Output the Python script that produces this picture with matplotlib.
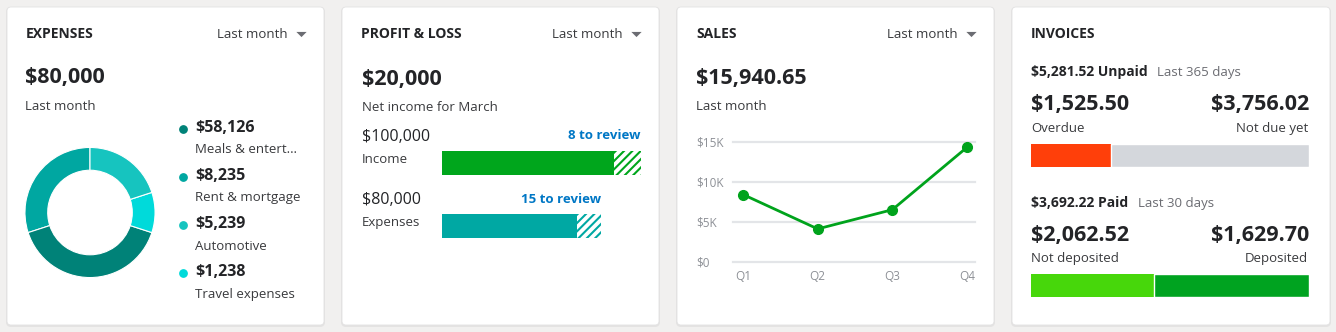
import matplotlib.pyplot as plt
from matplotlib.patches import FancyBboxPatch

plt.rcParams["font.family"] = ["Open Sans", "DejaVu Sans"]
plt.rcParams["hatch.linewidth"] = 1.5

W, H = 1336, 332

# --- data ---
expense_total = "$80,000"
expense_amounts = ["$58,126", "$8,235", "$5,239", "$1,238"]
expense_names = ["Meals & entert…", "Rent & mortgage", "Automotive", "Travel expenses"]
expense_colors = ["#008278", "#00a7a1", "#16c4bf", "#00dada"]
# ring segments, counter-clockwise from 12 o'clock
donut_order = [1, 0, 3, 2]
donut_shares = [30, 40, 10, 20]

pl_net = "$20,000"
pl_labels = ["Income", "Expenses"]
pl_amounts = [100000, 80000]
pl_to_review = [13500, 12000]
pl_review_counts = [8, 15]
pl_colors = ["#00a61c", "#00a8a3"]

sales_total = "$15,940.65"
quarters = ["Q1", "Q2", "Q3", "Q4"]
sales = [8400, 4100, 6500, 14300]
sales_ticks = [0, 5000, 10000, 15000]
sales_tick_labels = ["$0", "$5K", "$10K", "$15K"]

unpaid_total = 5281.52
unpaid_values = [1525.50, 3756.02]
unpaid_labels = ["Overdue", "Not due yet"]
unpaid_colors = ["#ff3f0a", "#d4d7dc"]
paid_total = 3692.22
paid_values = [2062.52, 1629.70]
paid_labels = ["Not deposited", "Deposited"]
paid_bar = [1629.70, 2062.52]
paid_colors = ["#47d70b", "#00a320"]

TEXT = "#393a3d"
STRONG = "#232427"
MUTED = "#6b6c72"
AXIS = "#8d9096"
BLUE = "#0077c5"
GREEN = "#00a31c"
CARET = [(-1, 0.5), (1, 0.5), (0, -0.5), (-1, 0.5)]


def px_axes(fig, x, y, w, h):
    return fig.add_axes([x / W, 1 - (y + h) / H, w / W, h / H])


fig = plt.figure(figsize=(W / 100, H / 100), dpi=100)
fig.patch.set_facecolor("#f1f0ef")
bg = fig.add_axes([0, 0, 1, 1])
bg.set_xlim(0, W)
bg.set_ylim(H, 0)
bg.axis("off")


def txt(x, y, s, size, weight="normal", color=TEXT, ha="left"):
    bg.text(x, y, s, fontsize=size, fontweight=weight, color=color, ha=ha, va="baseline")


def header(x0, x1, title, dropdown=True):
    txt(x0 + 19, 38, title, 10, "bold", color=STRONG)
    if dropdown:
        txt(x1 - 36, 38, "Last month", 9.5, color=TEXT, ha="right")
        bg.scatter([x1 - 23], [33.5], marker=CARET, s=55, color=MUTED, lw=0)


cards = [(7, 324), (342, 659), (677, 994), (1012, 1330)]
for x0, x1 in cards:
    bg.add_patch(FancyBboxPatch((x0 - 1, 7), x1 - x0 + 2, 320, boxstyle="round,pad=0,rounding_size=5",
                                fc="#000000", ec="none", alpha=0.05))
    bg.add_patch(FancyBboxPatch((x0, 7), x1 - x0, 318, boxstyle="round,pad=0,rounding_size=4",
                                fc="white", ec="#e2e2e2", lw=0.6))

# --- expenses ---
header(7, 324, "EXPENSES")
txt(25, 83.5, expense_total, 15.5, "bold", color=STRONG)
txt(25, 110, "Last month", 9.5)
for i, (amount, name, color) in enumerate(zip(expense_amounts, expense_names, expense_colors)):
    y = 131.5 + i * 48.3
    bg.scatter([183], [y - 3], s=28, color=color, zorder=3)
    txt(195, y, amount, 11.5, "bold", color=STRONG)
    txt(195, y + 21.5, name, 9.5)

ax = px_axes(fig, 23, 145.5, 134, 134)
ax.pie(donut_shares, colors=[expense_colors[i] for i in donut_order], startangle=90, counterclock=True,
       radius=1, wedgeprops=dict(width=0.35, edgecolor="white", linewidth=0.8))
ax.set_xlim(-1.03, 1.03)
ax.set_ylim(-1.03, 1.03)

# --- profit & loss ---
header(342, 659, "PROFIT & LOSS")
txt(362, 85, pl_net, 15.5, "bold", color=STRONG)
txt(362, 110.7, "Net income for March", 9.5)
bar_rows = [(140.7, 151), (204.3, 214)]
for (base, bar_top), label, amount, review, count, color in zip(
        bar_rows, pl_labels, pl_amounts, pl_to_review, pl_review_counts, pl_colors):
    txt(362, base, f"${amount:,.0f}", 11.5, color=STRONG)
    txt(362, base + 22, label, 9.5)
    right = 442 + 199 * amount / pl_amounts[0]
    txt(right, base - 1.5, f"{count} to review", 9.5, "bold", color=BLUE, ha="right")
    bax = px_axes(fig, 442, bar_top, 199, 23.5)
    bax.barh(0, amount - review, height=1, color=color, lw=0)
    bax.barh(0, review, left=amount - review, height=1, facecolor="white", edgecolor=color,
             hatch="////", lw=0)
    bax.set_xlim(0, pl_amounts[0])
    bax.set_ylim(-0.5, 0.5)
    bax.axis("off")

# --- sales ---
header(677, 994, "SALES")
txt(696, 84, sales_total, 15.5, "bold", color=STRONG)
txt(696, 110, "Last month", 9.5)
sax = px_axes(fig, 733, 141.7, 242, 120)
sax.plot(range(len(sales)), sales, color=GREEN, lw=2, marker="o", ms=7, zorder=3, clip_on=False)
sax.set_xlim(-0.134, 3.107)
sax.set_ylim(0, 15000)
sax.set_yticks(sales_ticks, sales_tick_labels)
sax.set_xticks(range(len(quarters)), quarters)
sax.tick_params(axis="y", length=0, pad=26.6, labelsize=8.5, labelcolor=AXIS)
sax.tick_params(axis="x", length=0, pad=6, labelsize=8.5, labelcolor=AXIS)
for lbl in sax.get_yticklabels():
    lbl.set_ha("left")
sax.grid(axis="y", color="#e3e5e8", lw=1.6)
for line in sax.get_ygridlines():
    line.set_clip_on(False)
sax.set_axisbelow(True)
for spine in sax.spines.values():
    spine.set_visible(False)
sax.patch.set_alpha(0)

# --- invoices ---
header(1012, 1330, "INVOICES", dropdown=False)
sections = [
    (76, 110, 144, unpaid_total, "Unpaid", "Last 365 days", 1156.7, unpaid_values, unpaid_labels,
     unpaid_values, unpaid_colors),
    (206.7, 240.7, 274, paid_total, "Paid", "Last 30 days", 1138.3, paid_values, paid_labels,
     paid_bar, paid_colors),
]
for head_y, num_y, bar_top, total, kind, period, period_x, values, labels, bar, colors in sections:
    txt(1031, head_y, f"${total:,.2f} {kind}", 10, "bold", color=STRONG)
    txt(period_x, head_y, period, 9.5, color=MUTED)
    txt(1031, num_y, f"${values[0]:,.2f}", 15.5, "bold", color=STRONG)
    txt(1309, num_y, f"${values[1]:,.2f}", 15.5, "bold", color=STRONG, ha="right")
    txt(1031, num_y + 21.7, labels[0], 9.5)
    txt(1308, num_y + 21.7, labels[1], 9.5, ha="right")
    iax = px_axes(fig, 1031, bar_top, 278, 22.5)
    iax.barh(0, bar[0], height=1, color=colors[0], lw=0)
    iax.barh(0, bar[1], left=bar[0], height=1, color=colors[1], edgecolor="white", lw=1)
    iax.set_xlim(0, sum(bar))
    iax.set_ylim(-0.5, 0.5)
    iax.axis("off")

fig.savefig("out.png", dpi=100, facecolor=fig.get_facecolor())
